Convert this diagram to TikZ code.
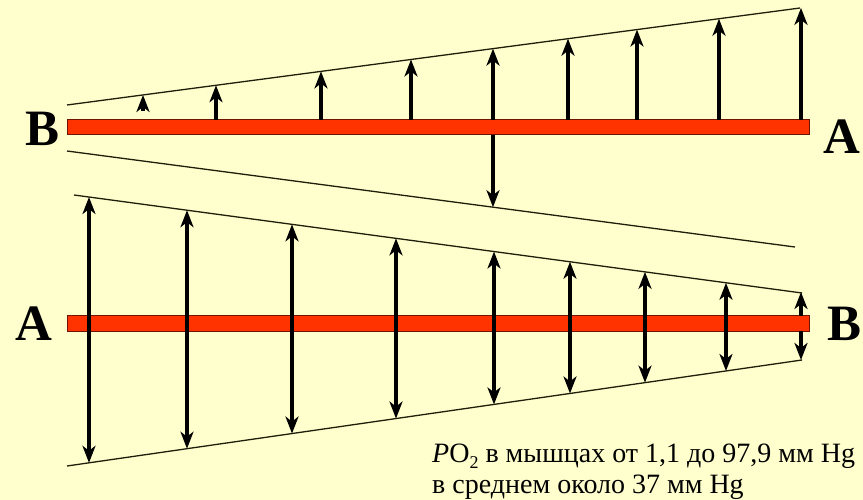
\documentclass[tikz,border=0pt]{standalone}
\usepackage{fontspec}
\setmainfont{Liberation Serif}
\usetikzlibrary{arrows.meta,calc}
\definecolor{bgyellow}{RGB}{255,255,206}
\definecolor{barred}{RGB}{255,51,0}
\definecolor{baredge}{RGB}{110,20,0}
\definecolor{thinline}{RGB}{30,30,10}
\tikzset{
  guide/.style={draw=thinline,line width=1.3pt},
  vessel/.style={fill=barred,draw=baredge,line width=1pt},
  flux/.style={draw=black,line width=3.8pt,-{Stealth[length=17pt,width=13pt,inset=5pt]}},
  flux2/.style={draw=black,line width=3.8pt,{Stealth[length=17pt,width=13pt,inset=5pt]}-{Stealth[length=17pt,width=13pt,inset=5pt]}},
  endlabel/.style={font=\fontsize{51}{51}\selectfont\bfseries,inner sep=0pt},
  note/.style={font=\fontsize{28}{28}\selectfont,inner sep=0pt,anchor=base west}
}
\begin{document}
\begin{tikzpicture}[x=1pt,y=-1pt]
\fill[bgyellow] (0,0) rectangle (863,500);
\useasboundingbox (0,0) rectangle (863,500);
% top capillary guide lines
\coordinate (tu1) at (67,105);
\coordinate (tu2) at (800,8);
\coordinate (tl1) at (67,151);
\coordinate (tl2) at (795,247);
\draw[guide] (tu1) -- (tu2);
\draw[guide] (tl1) -- (tl2);
% bottom capillary guide lines
\coordinate (bu1) at (74,195);
\coordinate (bu2) at (802,293);
\coordinate (bl1) at (67,466);
\coordinate (bl2) at (802,360);
\draw[guide] (bu1) -- (bu2);
\draw[guide] (bl1) -- (bl2);
% bars
\path[vessel] (67,120) rectangle (809,135);
\path[vessel] (67,315.5) rectangle (809,331);
% top arrows
\coordinate (s0) at (143,111);
\draw[flux] (s0) -- ($(tu1)!{(143-67)/733}!(tu2)$);
\foreach \x in {216,321,411,493,568,637,719,801}{
  \coordinate (ta) at (\x,120);
  \draw[flux] (ta) -- ($(tu1)!{(\x-67)/733}!(tu2)$);
}
\coordinate (td) at (493,135);
\draw[flux] (td) -- ($(tl1)!{(493-67)/728}!(tl2)$);
% bottom arrows
\foreach \x in {89,187,292,396,494,570,645,726}{
  \coordinate (ua) at ($(bu1)!{(\x-74)/728}!(bu2)$);
  \coordinate (la) at ($(bl1)!{(\x-67)/735}!(bl2)$);
  \draw[flux2] (ua) -- (la);
}
\coordinate (e1) at (801,316);
\coordinate (e2) at (801,331);
\draw[flux] (e1) -- (801,292);
\draw[flux] (e2) -- (801,360);
% labels
\node[endlabel] (lB1) at (43,129) {В};
\node[endlabel] (lA1) at (842,137) {А};
\node[endlabel] (lA2) at (34,324) {А};
\node[endlabel] (lB2) at (845,324) {В};
\node[note] (n1) at (432,462) {\textit{P}O\raisebox{-0.22em}{\fontsize{18}{18}\selectfont 2} в мышцах от 1,1 до 97,9 мм Hg};
\node[note] (n2) at (432,493) {в среднем около 37 мм Hg};
\end{tikzpicture}
\end{document}
